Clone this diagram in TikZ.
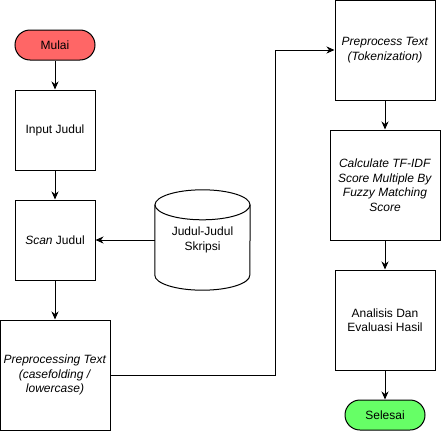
\documentclass[tikz,border=0pt]{standalone}
\usepackage{fontspec}
\setmainfont{Liberation Sans}
\usetikzlibrary{arrows.meta}
\definecolor{startred}{HTML}{FF6666}
\definecolor{endgreen}{HTML}{66FF66}

\begin{document}
\begin{tikzpicture}[x=1pt, y=-1pt, every node/.style={font=\fontsize{12}{14.5}\selectfont, align=center},
  box/.style={draw, line width=1pt, inner sep=0pt},
  term/.style={draw, line width=1pt, rounded corners=15pt, minimum width=80pt, minimum height=30pt, inner sep=0pt},
  arr/.style={-{Stealth[length=8pt,width=7pt,inset=2.5pt]}, line width=1pt}]
\useasboundingbox (0,0) rectangle (441,431);
\node[term, fill=startred] (mulai) at (55,45) {Mulai};
\node[box, minimum width=80pt, minimum height=80pt] (input) at (55,130) {Input Judul};
\node[box, minimum width=80pt, minimum height=80pt] (scan) at (55,240) {\textit{Scan} Judul};
\node[box, minimum width=110pt, minimum height=110pt] (prep) at (55,375) {\textit{Preprocessing Text}\\\textit{(casefolding /}\\\textit{lowercase)}};
\node[minimum width=95pt, minimum height=100pt, inner sep=0pt] (db) at (202.5,240) {Judul-Judul\\Skripsi};
\draw[line width=1pt] ([yshift=-15pt]db.north west) -- ([yshift=15pt]db.south west)
  arc[start angle=180, end angle=360, x radius=47.5pt, y radius=15pt] -- ([yshift=-15pt]db.north east);
\draw[line width=1pt] ([yshift=-15pt]db.north) ellipse[x radius=47.5pt, y radius=15pt];
\node[box, minimum width=100pt, minimum height=100pt] (tok) at (385,50) {\textit{Preprocess Text}\\\textit{(Tokenization)}};
\node[box, minimum width=110pt, minimum height=110pt] (tfidf) at (385,185) {\textit{Calculate TF-IDF}\\\textit{Score Multiple By}\\\textit{Fuzzy Matching}\\\textit{Score}};
\node[box, minimum width=100pt, minimum height=100pt] (hasil) at (385,320) {Analisis Dan\\Evaluasi Hasil};
\node[term, fill=endgreen] (selesai) at (385,415) {Selesai};
\coordinate (bend) at (275,375);

\draw[arr] (mulai) -- (input);
\draw[arr] (input) -- (scan);
\draw[arr] (db.west) -- (scan.east);
\draw[arr] (scan) -- (prep);
\draw[arr] (prep.east) -- (bend) |- (tok.west);
\draw[arr] (tok) -- (tfidf);
\draw[arr] (tfidf) -- (hasil);
\draw[arr] (hasil) -- (selesai);
\end{tikzpicture}
\end{document}
